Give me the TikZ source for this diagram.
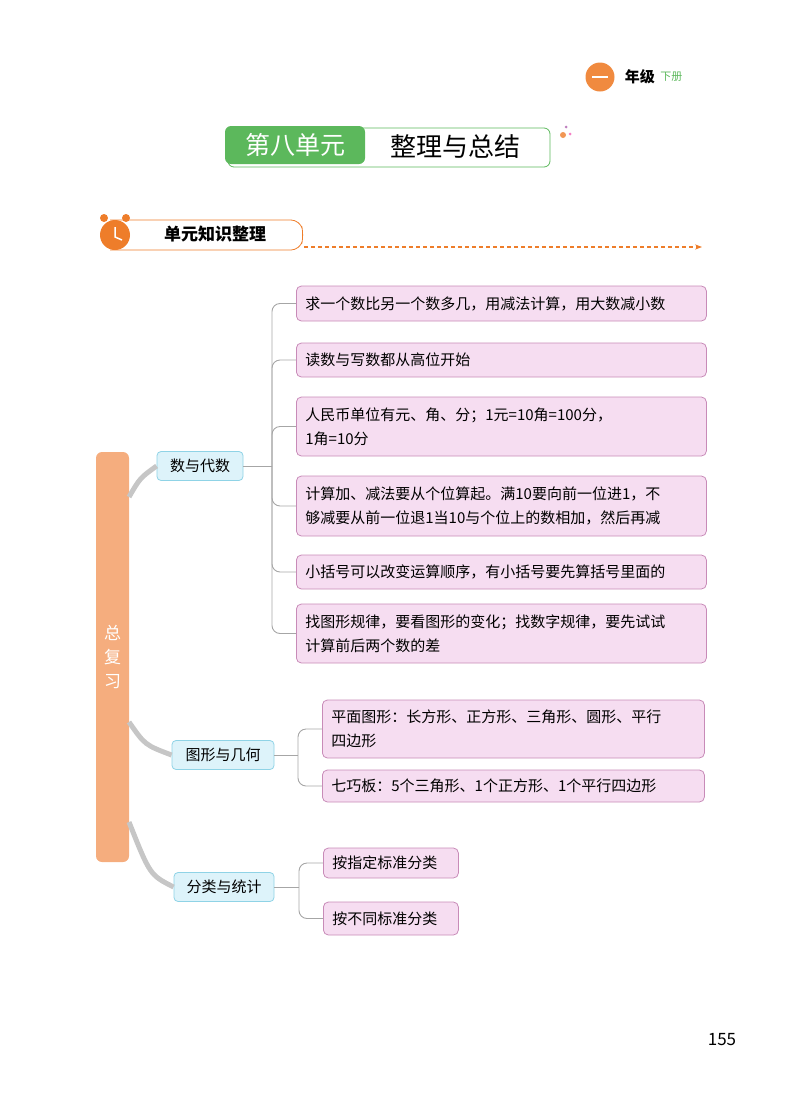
\documentclass[tikz,border=0pt]{standalone}
\usepackage{fontspec}
\setmainfont{Noto Sans CJK SC}
\usetikzlibrary{positioning,arrows.meta}
\definecolor{rootorange}{HTML}{F5AD7E}
\definecolor{deeporange}{HTML}{EE7D2A}
\definecolor{titlegreen}{HTML}{5CB85C}
\definecolor{leafpink}{HTML}{F6DDF1}
\definecolor{leafline}{HTML}{C88BB8}
\definecolor{branchblue}{HTML}{DDF3FA}
\definecolor{branchline}{HTML}{8FD3E6}
\begin{document}
\begin{tikzpicture}[x=1pt,y=-1pt,
  every node/.style = {inner sep=0pt},
  leaf/.style = {draw=leafline, fill=leafpink, rounded corners=5pt, line width=0.8pt,
    anchor=west, align=left, inner xsep=9pt, font=\fontsize{15}{24}\selectfont},
  branch/.style = {draw=branchline, fill=branchblue, rounded corners=4pt, line width=0.8pt,
    minimum height=29pt, align=center, font=\fontsize{15}{16}\selectfont},
  link/.style = {draw=gray!70, line width=0.9pt},
  trunk/.style = {draw=gray!45, line width=5pt}]
  \useasboundingbox (0,0) rectangle (800,1114);
  % page header
  \node[circle, fill=deeporange!90, minimum size=29pt] (grade) at (600,77) {};
  \draw[white, line width=2.5pt] (592,77) -- (608,77);
  \node[right=10pt of grade, font=\fontsize{15}{16}\selectfont\bfseries] (gradetext) {年级};
  \node[right=5pt of gradetext, text=titlegreen, font=\fontsize{11}{12}\selectfont] (term) {下册};
  % title
  \draw[titlegreen, line width=0.8pt, rounded corners=6pt] (228,128) rectangle (550,167);
  \node[fill=titlegreen, rounded corners=6pt, minimum width=140pt, minimum height=38pt,
    text=white, font=\fontsize{25}{26}\selectfont] (unit) at (295,145) {第八单元};
  \node[font=\fontsize{26}{27}\selectfont] (topic) at (455,147) {整理与总结};
  \fill[deeporange!80] (563,135) circle (3pt);
  \fill[violet!50] (566,127) circle (1.5pt);
  \fill[magenta!50] (570,134) circle (1.5pt);
  % section bar
  \draw[deeporange, line width=0.8pt, rounded corners=9pt] (110,220) -- (300,220) -- (304,235) -- (300,250) -- (110,250);
  \node[circle, fill=deeporange, minimum size=30pt] (clock) at (115,235) {};
  \fill[deeporange] (104,218) circle (4pt) (126,218) circle (4pt);
  \draw[white, line width=1.5pt] (115,227) -- (115,237) -- (122,240);
  \node[font=\fontsize{17}{18}\selectfont\bfseries] (section) at (215,234) {单元知识整理};
  \draw[deeporange, line width=1.3pt, dash pattern=on 4pt off 3pt, -{Stealth[length=7pt]}] (304,247) -- (702,247);
  % mind map
  \node[fill=rootorange, rounded corners=6pt, minimum width=33pt, minimum height=410pt,
    text=white, font=\fontsize{17}{24}\selectfont, align=center] (root) at (112.5,657) {总\\复\\习};
  \node[branch, minimum width=86pt] (numbers) at (200,466) {数与代数};
  \node[branch, minimum width=102pt] (shapes) at (223,755) {图形与几何};
  \node[branch, minimum width=100pt] (stats) at (224,887) {分类与统计};
  \coordinate (r1) at (129,497);
  \coordinate (r2) at (129,722);
  \coordinate (r3) at (129,822);
  \draw[trunk] (r1) .. controls (140,478) .. (numbers.west);
  \draw[trunk] (r2) .. controls (145,745) .. (shapes.west);
  \draw[trunk] (r3) .. controls (150,875) .. (stats.west);
  % leaves
  \node[leaf, text width=392pt, minimum height=35pt] (n1) at (296,303.5) {求一个数比另一个数多几，用减法计算，用大数减小数};
  \node[leaf, text width=392pt, minimum height=34pt] (n2) at (296,360) {读数与写数都从高位开始};
  \node[leaf, text width=392pt, minimum height=59pt] (n3) at (296,426.5) {人民币单位有元、角、分；1元=10角=100分，\\1角=10分};
  \node[leaf, text width=392pt, minimum height=60pt] (n4) at (296,506) {计算加、减法要从个位算起。满10要向前一位进1，不\\够减要从前一位退1当10与个位上的数相加，然后再减};
  \node[leaf, text width=392pt, minimum height=34pt] (n5) at (296,572) {小括号可以改变运算顺序，有小括号要先算括号里面的};
  \node[leaf, text width=392pt, minimum height=59pt] (n6) at (296,633.5) {找图形规律，要看图形的变化；找数字规律，要先试试\\计算前后两个数的差};
  \node[leaf, text width=364pt, minimum height=58pt] (g1) at (322,729) {平面图形：长方形、正方形、三角形、圆形、平行\\四边形};
  \node[leaf, text width=364pt, minimum height=32pt] (g2) at (322,786) {七巧板：5个三角形、1个正方形、1个平行四边形};
  \node[leaf, text width=117pt, minimum height=30pt] (s1) at (323,863) {按指定标准分类};
  \node[leaf, text width=117pt, minimum height=33pt] (s2) at (323,918.5) {按不同标准分类};
  % brackets
  \draw[link] (numbers.east) -- (272,466) coordinate (nj);
  \foreach \leafname in {n1,n2,n3,n4,n5,n6}
    \draw[link, rounded corners=8pt] (nj) |- (\leafname.west);
  \draw[link] (shapes.east) -- (298,755) coordinate (gj);
  \foreach \leafname in {g1,g2}
    \draw[link, rounded corners=8pt] (gj) |- (\leafname.west);
  \draw[link] (stats.east) -- (299,887) coordinate (sj);
  \foreach \leafname in {s1,s2}
    \draw[link, rounded corners=8pt] (sj) |- (\leafname.west);
  % page number
  \node[font=\fontsize{17}{18}\selectfont] (page) at (722,1040) {155};
\end{tikzpicture}
\end{document}
